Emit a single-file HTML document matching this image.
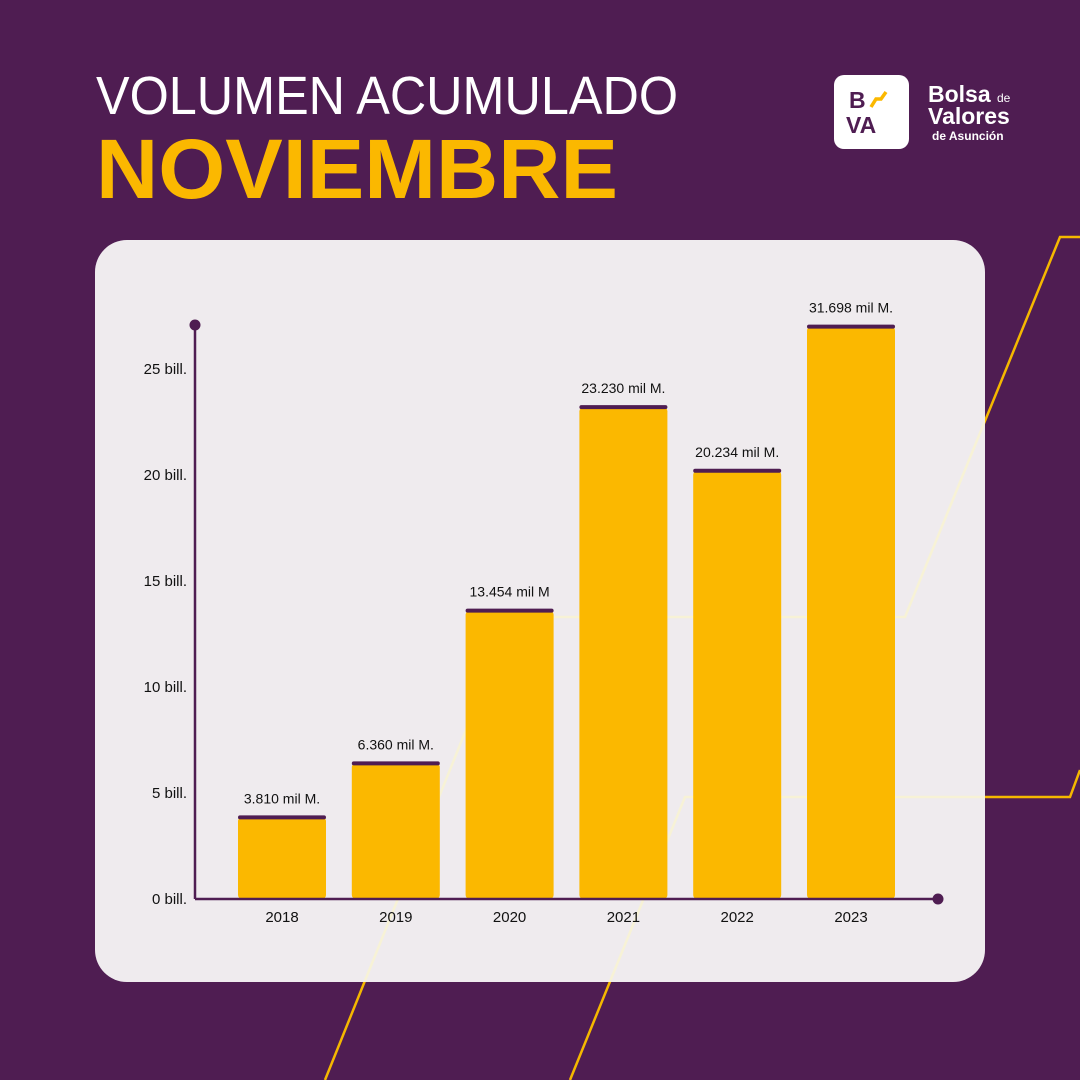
<!DOCTYPE html>
<html><head><meta charset="utf-8"><style>
html,body{margin:0;padding:0;}
body{width:1080px;height:1080px;background:#4f1d52;position:relative;overflow:hidden;font-family:"Liberation Sans",sans-serif;}
</style></head><body>
<svg width="1080" height="1080" style="position:absolute;left:0;top:0">
<defs><clipPath id="cardclip"><rect x="95" y="240" width="890" height="742" rx="32"/></clipPath></defs>
<text x="96" y="114" font-size="54" fill="#ffffff" font-family="Liberation Sans, sans-serif" textLength="582" lengthAdjust="spacingAndGlyphs">VOLUMEN ACUMULADO</text>
<text x="96" y="198" font-size="84" font-weight="bold" fill="#fbb800" font-family="Liberation Sans, sans-serif" textLength="522" lengthAdjust="spacingAndGlyphs">NOVIEMBRE</text>
<g>
<rect x="834" y="75" width="75" height="74" rx="10" fill="#fff"/>
<text x="849" y="108" font-size="23" font-weight="bold" fill="#4f1d52">B</text>
<path d="M871 107 L876 99 L881 99 L886 92" stroke="#fbb800" stroke-width="3.5" fill="none"/>
<text x="846" y="133" font-size="23" font-weight="bold" fill="#4f1d52">VA</text>
<text x="928" y="102" font-size="23" font-weight="bold" fill="#fff">Bolsa</text>
<text x="997" y="102" font-size="12" fill="#fff">de</text>
<text x="928" y="124" font-size="23" font-weight="bold" fill="#fff">Valores</text>
<text x="932" y="140" font-size="12" font-weight="bold" fill="#fff">de Asunción</text>
</g>
<g id="lines" fill="none" stroke-width="2.5">
<path id="l1" d="M1080 237 L1060 237 L905 617 L530 617"/>
<path id="l2" d="M1080 770 L1070 797 L685 797 L570 1080"/>
<path id="l3" d="M470 720 L325 1080"/>
</g>
<g stroke="#f5b800" fill="none" stroke-width="2.5"><use href="#l1"/><use href="#l2"/><use href="#l3"/></g>
<rect x="95" y="240" width="890" height="742" rx="32" fill="#efebee"/>
<g clip-path="url(#cardclip)" stroke="#f7f2d6" fill="none" stroke-width="2.5"><use href="#l1"/><use href="#l2"/><use href="#l3"/></g>
<g id="plot"></g>
</svg>
<script>
const years=["2018","2019","2020","2021","2022","2023"];
const barValues=[3.85,6.4,13.6,23.2,20.2,27.0];
const valueLabels=["3.810 mil M.","6.360 mil M.","13.454 mil M","23.230 mil M.","20.234 mil M.","31.698 mil M."];
const yTicks=[0,5,10,15,20,25];
const yTickLabels=["0 bill.","5 bill.","10 bill.","15 bill.","20 bill.","25 bill."];
const NS="http://www.w3.org/2000/svg";
const g=document.getElementById('plot');
const y0=899,pxPer=21.2,xL=195,x0=282,step=113.8,bw=88;
const ys=v=>y0-v*pxPer, xs=i=>x0+i*step;
function mk(t,a){const e=document.createElementNS(NS,t);for(const k in a)e.setAttribute(k,a[k]);g.appendChild(e);return e;}
barValues.forEach((v,i)=>{
 const b=mk('rect',{x:xs(i)-bw/2,y:ys(v),width:bw,height:y0-ys(v),rx:4,fill:'#fbb800'});
 
 
 const c=mk('rect',{x:xs(i)-bw/2,y:ys(v)-2,width:bw,height:4,rx:2,fill:'#4f1d52'});
 
 
 const t=mk('text',{x:xs(i),y:ys(v)-14,'text-anchor':'middle','font-size':14,fill:'#111'});
 t.textContent=valueLabels[i];
 
 
 const xl=mk('text',{x:xs(i),y:922,'text-anchor':'middle','font-size':15,fill:'#111'});
 xl.textContent=years[i];
 
 
});
yTicks.forEach((v,i)=>{
 const t=mk('text',{x:187,y:ys(v)+5,'text-anchor':'end','font-size':15,fill:'#111'});
 t.textContent=yTickLabels[i];
 
 
});
const ya=mk('line',{x1:xL,y1:325,x2:xL,y2:y0,stroke:'#4f1d52','stroke-width':2.5});


const xa=mk('line',{x1:xL,y1:y0,x2:938,y2:y0,stroke:'#4f1d52','stroke-width':2.5});


const d1=mk('circle',{cx:xL,cy:325,r:5.5,fill:'#4f1d52'});


const d2=mk('circle',{cx:938,cy:y0,r:5.5,fill:'#4f1d52'});


</script>
</body></html>
